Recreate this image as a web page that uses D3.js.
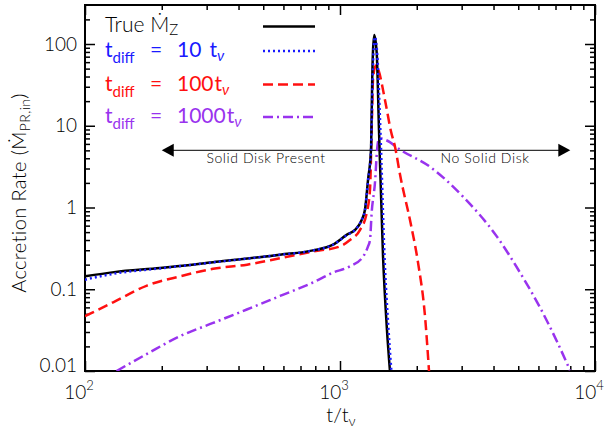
<html>
<head>
<style>
  body { margin: 0; background: #fff; }
  svg text { font-family: Lato, "DejaVu Sans", sans-serif; font-weight: 300; }
  .tick line { stroke: #000; stroke-width: 1.5px; }
  .curve { fill: none; stroke-width: 2.5px; stroke-linejoin: round; }
</style>
<script src="https://cdnjs.cloudflare.com/ajax/libs/d3/7.8.5/d3.min.js"></script>
</head>
<body>
<svg width="610" height="433"></svg>
<script>
// ---- data (t/t_nu, accretion rate) ----
var tTrue = [100, 130, 197, 318, 582, 784, 939, 1065, 1145, 1215, 1253, 1288, 1323, 1330, 1336, 1346, 1363, 1393, 1422, 1475, 1528, 1570];
var mTrue = [0.144, 0.162, 0.182, 0.214, 0.265, 0.299, 0.351, 0.466, 0.532, 0.70, 0.94, 2.18, 5.08, 11.8, 30, 77.6, 129, 77.6, 8.9, 0.25, 0.032, 0.01];

var tBlue = [100, 130, 197, 318, 582, 784, 939, 1065, 1145, 1215, 1253, 1288, 1323, 1332, 1340, 1352, 1370, 1400, 1440, 1495, 1550, 1590];
var mBlue = [0.131, 0.155, 0.180, 0.213, 0.264, 0.298, 0.350, 0.46, 0.53, 0.70, 0.93, 2.1, 5.0, 11.5, 30, 75, 122, 75, 8.9, 0.25, 0.032, 0.01];

var tRed = [100, 129, 175, 236, 318, 432, 582, 784, 1000, 1094, 1197, 1273, 1311, 1331, 1347, 1370, 1390, 1416, 1501, 1585, 1644, 1720, 1898, 2023, 2155, 2234];
var mRed = [0.0468, 0.0693, 0.111, 0.144, 0.178, 0.200, 0.240, 0.290, 0.335, 0.40, 0.53, 0.857, 1.65, 8.9, 36, 52, 55, 48, 20.7, 8.5, 5.5, 2.51, 0.616, 0.212, 0.0464, 0.01];

var tPur = [133, 175, 236, 318, 431, 582, 784, 939, 1084, 1231, 1288, 1311, 1331, 1374, 1395, 1412, 1440, 1527, 1720, 2254, 3037, 4126, 5081, 6086, 7094, 7980];
var mPur = [0.01, 0.0162, 0.0267, 0.0387, 0.0565, 0.0828, 0.121, 0.16, 0.188, 0.25, 0.335, 0.40, 0.86, 2.18, 4.7, 6.5, 7.0, 6.6, 5.1, 3.15, 1.355, 0.44, 0.16, 0.0598, 0.023, 0.0102];

var xMajor = [100, 1000, 10000];
var xMajorExp = ["2", "3", "4"];
var yMajor = [0.01, 0.1, 1, 10, 100];
var yLabels = ["0.01", "0.1", "1", "10", "100"];

var legendMult = ["10", "100", "1000"];

var arrowSpan = [200, 8000];
var arrowLevel = 5;
var regionLabels = ["Solid Disk Present", "No Solid Disk"];

// ---- setup ----
var svg = d3.select("svg"),
	pL = 85, pR = 595, pT = 5, pB = 371;

var x = d3.scaleLog().domain([100, 10000]).range([pL, pR]);
var y = d3.scaleLog().domain([0.01, 300]).range([pB, pT]);

function minors(lo, hi) {
	var out = [];
	for (var p = lo; p < hi; p *= 10)
		for (var k = 2; k <= 9; k++) if (p * k < hi * 1.0001) out.push(p * k);
	return out;
}
var xMinor = minors(100, 10000),
	yMinor = minors(0.01, 300).filter(function(d) { return d < 299; });

svg.append("clipPath").attr("id", "clip")
	.append("rect").attr("x", pL).attr("y", pT).attr("width", pR - pL).attr("height", pB - pT);

// ticks (pointing inward on all four sides)
function tickAxis(axis, tx, ty, vals, size) {
	var g = svg.append("g").attr("transform", "translate(" + tx + "," + ty + ")")
		.call(axis.tickValues(vals).tickSize(size).tickSizeOuter(0).tickFormat(""));
	g.select(".domain").remove();
	return g;
}
tickAxis(d3.axisBottom(x), 0, pB, xMajor, -10);
tickAxis(d3.axisBottom(x), 0, pB, xMinor, -5);
tickAxis(d3.axisTop(x), 0, pT, xMajor, -10);
tickAxis(d3.axisTop(x), 0, pT, xMinor, -5);
tickAxis(d3.axisRight(y), pR, 0, yMajor, -10);
tickAxis(d3.axisRight(y), pR, 0, yMinor, -5);
tickAxis(d3.axisLeft(y), pL, 0, yMinor, -5);

var yAx = svg.append("g").attr("transform", "translate(" + pL + ",0)")
	.call(d3.axisLeft(y).tickValues(yMajor).tickSize(-10).tickSizeOuter(0).tickPadding(8)
		.tickFormat(function(d, i) { return yLabels[i]; }));
yAx.select(".domain").remove();
yAx.selectAll("text").attr("font-size", 19).attr("fill", "#000")
	.attr("font-family", "Lato, 'DejaVu Sans', sans-serif")
	.attr("dy", function(d) { return d === 0.01 ? "0.05em" : "0.32em"; });

// x tick labels 10^n
var xl = svg.append("g").selectAll("text").data(xMajor).enter().append("text")
	.attr("x", function(d) { return x(d) - 6; })
	.attr("y", 399)
	.attr("text-anchor", "middle")
	.attr("font-size", 19);
xl.append("tspan").text("10");
xl.append("tspan").attr("dy", -9).attr("font-size", 13).text(function(d, i) { return xMajorExp[i]; });

// frame
svg.append("rect").attr("x", pL).attr("y", pT).attr("width", pR - pL).attr("height", pB - pT)
	.attr("fill", "none").attr("stroke", "#000").attr("stroke-width", 2);

// axis titles
var xt = svg.append("text").attr("x", 341).attr("y", 422).attr("text-anchor", "middle").attr("font-size", 20);
xt.append("tspan").text("t/t");
xt.append("tspan").attr("dy", 4).attr("font-size", 14).text("ν");

var yt = svg.append("text").attr("transform", "translate(26,193) rotate(-90)")
	.attr("text-anchor", "middle").attr("font-size", 20).attr("letter-spacing", 0.4);
yt.append("tspan").text("Accretion Rate (Ṁ");
yt.append("tspan").attr("dy", 4).attr("font-size", 14).text("PR,in");
yt.append("tspan").attr("dy", -4).text(")");

// region arrow
var ay = y(arrowLevel), ax0 = x(arrowSpan[0]), ax1 = x(arrowSpan[1]);
svg.append("line").attr("x1", ax0 + 8).attr("x2", ax1 - 8).attr("y1", ay).attr("y2", ay)
	.attr("stroke", "#333").attr("stroke-width", 1.2);
svg.append("path").attr("d", "M" + ax0 + "," + ay + "L" + (ax0 + 12) + "," + (ay - 6.5) + "L" + (ax0 + 12) + "," + (ay + 6.5) + "Z").attr("fill", "#000");
svg.append("path").attr("d", "M" + ax1 + "," + ay + "L" + (ax1 - 12) + "," + (ay - 6.5) + "L" + (ax1 - 12) + "," + (ay + 6.5) + "Z").attr("fill", "#000");
svg.append("text").attr("x", 266).attr("y", ay + 13).attr("text-anchor", "middle").attr("font-size", 14)
	.attr("letter-spacing", 0.6).text(regionLabels[0]);
svg.append("text").attr("x", 485).attr("y", ay + 13).attr("text-anchor", "middle").attr("font-size", 14)
	.attr("letter-spacing", 0.6).text(regionLabels[1]);

// curves
var line = d3.line()
	.curve(d3.curveMonotoneX)
	.x(function(d) { return x(d[0]); })
	.y(function(d) { return y(d[1]); });

var series = [
	{ t: tPur, m: mPur, color: "#9933ee", dash: "10,4,2,4" },
	{ t: tRed, m: mRed, color: "#ff1010", dash: "10,5" },
	{ t: tTrue, m: mTrue, color: "#000", dash: null },
	{ t: tBlue, m: mBlue, color: "#1a1aff", dash: "2,3" }
];
var cg = svg.append("g").attr("clip-path", "url(#clip)");
series.forEach(function(s) {
	cg.append("path").attr("class", "curve")
		.attr("d", line(d3.zip(s.t, s.m)))
		.attr("stroke", s.color)
		.attr("stroke-dasharray", s.dash);
});

// legend
var leg = svg.append("g").style("font-weight", 400);
var lt = leg.append("text").attr("x", 105).attr("y", 32).attr("font-size", 21).style("font-weight", 300);
lt.append("tspan").text("True  Ṁ");
lt.append("tspan").attr("dy", 3).attr("font-size", 15).text("Z");
leg.append("line").attr("x1", 263).attr("x2", 315).attr("y1", 26.5).attr("y2", 26.5)
	.attr("stroke", "#000").attr("stroke-width", 2.5);

var legRows = [
	{ yb: 57, color: "#1a1aff", dash: "2,3", gap: true },
	{ yb: 90.5, color: "#ff1010", dash: "10,5", gap: false },
	{ yb: 123, color: "#9933ee", dash: "10,4,2,4", gap: false }
];
legRows.forEach(function(r, i) {
	var g = leg.append("g").attr("fill", r.color);
	var a = g.append("text").attr("x", 105).attr("y", r.yb).attr("font-size", 21).style("font-weight", 400);
	a.append("tspan").text("t");
	a.append("tspan").attr("dy", 6).attr("font-size", 15).text("diff");
	g.append("text").attr("x", 150).attr("y", r.yb).attr("font-size", 21).style("font-weight", 400).text("=");
	var b = g.append("text").attr("x", 177).attr("y", r.yb).attr("font-size", 21).style("font-weight", 400);
	b.append("tspan").text(legendMult[i]);
	b.append("tspan").attr("dx", r.gap ? 8 : 1).text("t");
	b.append("tspan").attr("dy", 4).attr("font-size", 15).attr("font-style", "italic").text("ν");
	leg.append("line").attr("x1", 263).attr("x2", 315).attr("y1", r.yb - 6).attr("y2", r.yb - 6)
		.attr("stroke", r.color).attr("stroke-width", 2.5).attr("stroke-dasharray", r.dash);
});
</script>
</body>
</html>
